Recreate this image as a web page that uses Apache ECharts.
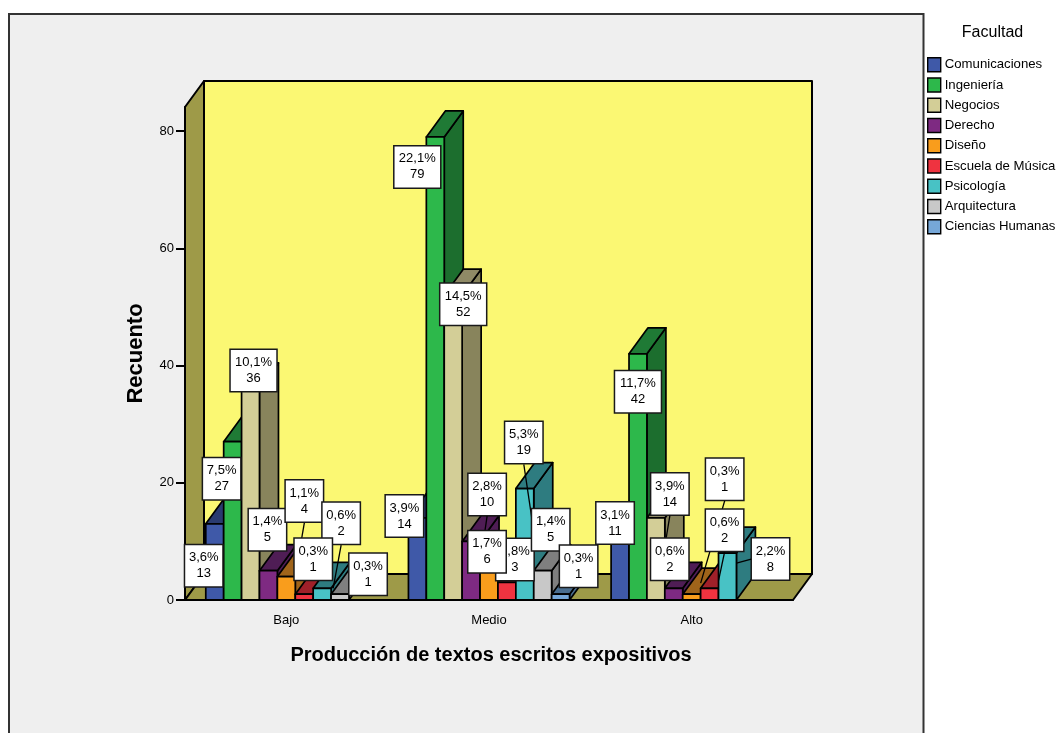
<!DOCTYPE html>
<html>
<head>
<meta charset="utf-8">
<style>html,body{margin:0;padding:0;background:#fff}#chart{width:1058px;height:733px}</style>
<script src="https://cdn.jsdelivr.net/npm/echarts@6/dist/echarts.min.js"></script>
</head>
<body>
<div id="chart"></div>
<script>
// Recuento de estudiantes por nivel de producción y facultad
const categories = ['Bajo', 'Medio', 'Alto'];
const faculties = ['Comunicaciones', 'Ingeniería', 'Negocios', 'Derecho', 'Diseño', 'Escuela de Música', 'Psicología', 'Arquitectura', 'Ciencias Humanas'];
const tickValues = [0, 20, 40, 60, 80];

const comunicaciones = [13, 14, 11];
const ingenieria = [27, 79, 42];
const negocios = [36, 52, 14];
const derecho = [5, 10, 2];
const diseno = [4, 6, 1];
const musica = [1, 3, 2];
const psicologia = [2, 19, 8];
const arquitectura = [1, 5, 0];
const humanas = [0, 1, 0];

const pctComunicaciones = ['3,6%', '3,9%', '3,1%'];
const pctIngenieria = ['7,5%', '22,1%', '11,7%'];
const pctNegocios = ['10,1%', '14,5%', '3,9%'];
const pctDerecho = ['1,4%', '2,8%', '0,6%'];
const pctDiseno = ['1,1%', '1,7%', '0,3%'];
const pctMusica = ['0,3%', '0,8%', '0,6%'];
const pctPsicologia = ['0,6%', '5,3%', '2,2%'];
const pctArquitectura = ['0,3%', '1,4%', ''];
const pctHumanas = ['', '0,3%', ''];

const counts = [comunicaciones, ingenieria, negocios, derecho, diseno, musica, psicologia, arquitectura, humanas];
const percents = [pctComunicaciones, pctIngenieria, pctNegocios, pctDerecho, pctDiseno, pctMusica, pctPsicologia, pctArquitectura, pctHumanas];

// Caras de cada barra: frontal, lateral y superior
const frontColors = ['#3F59A8', '#2DB84B', '#D3CE97', '#7E2A82', '#F99D1C', '#EF3340', '#48C2C5', '#C8C8C8', '#76A7D8'];
const sideColors = ['#2A3B70', '#1C6E2E', '#88845C', '#4F1D55', '#A0641A', '#A02029', '#2E7C80', '#7F7F7F', '#4A6E90'];
const topColors = ['#2A3B70', '#1F7A35', '#8F8A66', '#4F1D55', '#A0641A', '#A02029', '#2E7C80', '#7F7F7F', '#4A6E90'];

// Desplazamiento de cada etiqueta respecto al borde superior de su barra: [categoría][facultad]
const labelShift = [
  [[-11, 42], [-11, 37], [3, -18.5], [-1, -41], [18, -75.5], [9, -35], [19, -65], [28, -20], null],
  [[-13, -2], [-18, 30], [10, 9], [16, -47], [-2, -13], [8, -23], [-1, -46], [8, -41], [18, -28]],
  [[-5, -12.5], [0, 38], [14, -24], [-4, -29], [33, -115], [15, -58], [43, 6], null, null]
];
// Punto al que apunta la línea guía, relativo al mismo borde superior
const leaderTarget = [
  { 4: [9, -1.5], 6: [11, 0] },
  { 3: [10, 16], 6: [9, 43] },
  { 2: [10, 22], 4: [9, -11], 5: [9, -8], 6: [9, 10] }
];
const labelOrder = [
  [0, 1, 2, 3, 4, 6, 5, 7],
  [0, 1, 2, 3, 5, 4, 6, 7, 8],
  [0, 1, 2, 3, 4, 5, 6]
];

const AXIS_MAX = 84.1;
const DEPTH_X = 19;
const DEPTH_Y = 26;
const SLOTS = 9;
const EDGE = '#000';

function poly(points, fill, lw) {
  return { type: 'polygon', shape: { points }, style: { fill, stroke: EDGE, lineWidth: lw || 1.7, lineJoin: 'round' } };
}

// Paredes y suelo del recinto tridimensional
function renderWalls(params) {
  const r = params.coordSys;
  const l = r.x, t = r.y, w = r.width, b = r.y + r.height;
  const wall = '#9E9A48';
  return {
    type: 'group',
    children: [
      poly([[l + DEPTH_X, t - DEPTH_Y], [l + w + DEPTH_X, t - DEPTH_Y], [l + w + DEPTH_X, b - DEPTH_Y], [l + DEPTH_X, b - DEPTH_Y]], '#FBF873', 2),
      poly([[l, t], [l + DEPTH_X, t - DEPTH_Y], [l + DEPTH_X, b - DEPTH_Y], [l, b]], wall, 2),
      poly([[l, b], [l + DEPTH_X, b - DEPTH_Y], [l + w + DEPTH_X, b - DEPTH_Y], [l + w, b]], wall, 2)
    ]
  };
}

function slotWidth(api) {
  return api.size([1, 0])[0] * 0.795 / SLOTS;
}

function barRenderer(f) {
  return function (params, api) {
    const cat = api.value(0), val = api.value(1);
    if (!val) return null;
    const s = slotWidth(api);
    const base = api.coord([cat, 0]);
    const top = api.coord([cat, val]);
    const x0 = base[0] + (f - SLOTS / 2) * s;
    const x1 = x0 + s;
    const y0 = base[1], y1 = top[1];
    return {
      type: 'group',
      children: [
        poly([[x1, y1], [x1 + DEPTH_X, y1 - DEPTH_Y], [x1 + DEPTH_X, y0 - DEPTH_Y], [x1, y0]], sideColors[f]),
        poly([[x0, y1], [x0 + DEPTH_X, y1 - DEPTH_Y], [x1 + DEPTH_X, y1 - DEPTH_Y], [x1, y1]], topColors[f]),
        poly([[x0, y1], [x1, y1], [x1, y0], [x0, y0]], frontColors[f])
      ]
    };
  };
}

// Cuadros de porcentaje y recuento, con su línea guía encima
function renderLabels(params, api) {
  const cat = api.value(0), f = api.value(1), val = api.value(2);
  const s = slotWidth(api);
  const top = api.coord([cat, val]);
  const ax = top[0] + (f - (SLOTS - 1) / 2) * s;
  const ay = top[1];
  const shift = labelShift[cat][f];
  const cx = ax + shift[0], cy = ay + shift[1];
  const pct = percents[f][cat];
  const w = pct.length > 4 ? 47 : 38.5;
  const h = 42.5;
  const children = [
    { type: 'rect', shape: { x: cx - w / 2, y: cy - h / 2, width: w, height: h },
      style: { fill: '#fff', stroke: '#1a1a1a', lineWidth: 1.5 } },
    { type: 'text', style: { x: cx, y: cy, text: pct + '\n' + val, align: 'center', verticalAlign: 'middle',
      font: '13px "Liberation Sans"', lineHeight: 16, fill: '#000' } }
  ];
  const t = leaderTarget[cat][f];
  if (t) {
    const tx = ax + t[0], ty = ay + t[1];
    const fromSide = Math.abs(tx - cx) > w / 2 && Math.abs(ty - cy) < h / 2;
    const sx = fromSide ? cx - w / 2 : cx;
    const sy = fromSide ? cy : cy + h / 2 + 0.5;
    children.push({ type: 'line', shape: { x1: sx, y1: sy, x2: tx, y2: ty }, style: { stroke: '#000', lineWidth: 1.3 } });
  }
  return { type: 'group', children };
}

const labelRows = [];
labelOrder.forEach((order, cat) => order.forEach(f => labelRows.push([cat, f, counts[f][cat]])));

const series = [
  { type: 'custom', coordinateSystem: 'cartesian2d', z: 2, silent: true, renderItem: renderWalls, data: [[0, 0]], encode: { x: 0, y: 1 } }
];
faculties.forEach((name, f) => {
  series.push({
    name, type: 'custom', coordinateSystem: 'cartesian2d', z: 2, silent: true,
    itemStyle: { color: frontColors[f] },
    renderItem: barRenderer(f),
    data: categories.map((c, i) => [i, counts[f][i]]),
    encode: { x: 0, y: 1 }
  });
});
series.push({ type: 'custom', coordinateSystem: 'cartesian2d', z: 6, silent: true, renderItem: renderLabels, data: labelRows, encode: { x: 0, y: 2 } });

const chart = echarts.init(document.getElementById('chart'), null, { renderer: 'canvas' });
chart.setOption({
  animation: false,
  backgroundColor: '#fff',
  textStyle: { fontFamily: '"Liberation Sans"' },
  graphic: [{
    type: 'rect', z: -1, silent: true,
    shape: { x: 9, y: 14, width: 914.5, height: 740 },
    style: { fill: '#EFEFEF', stroke: '#333', lineWidth: 2 }
  }],
  title: {
    text: 'Facultad', left: 987.5, top: 20, textAlign: 'center',
    textStyle: { fontSize: 16, fontWeight: 'normal', color: '#000', fontFamily: '"Liberation Sans"' }
  },
  legend: {
    data: faculties, orient: 'vertical', left: 927, top: 57, padding: 0,
    itemWidth: 13, itemHeight: 14, itemGap: 4.85, icon: 'rect', selectedMode: false,
    itemStyle: { borderColor: '#000', borderWidth: 1.4 },
    textStyle: { fontSize: 13.2, lineHeight: 14, color: '#000', fontFamily: '"Liberation Sans"', padding: [0, 0, 0, -1] }
  },
  grid: { left: 185, right: 265, top: 107, bottom: 133 },
  xAxis: {
    type: 'category', data: categories, z: 4,
    name: 'Producción de textos escritos expositivos', nameLocation: 'middle', nameGap: 45,
    nameTextStyle: { fontSize: 20, fontWeight: 'bold', color: '#000', fontFamily: '"Liberation Sans"', padding: [0, 0, 0, 4] },
    axisLine: { lineStyle: { color: '#000', width: 2 } },
    axisTick: { alignWithLabel: true, length: 10, lineStyle: { color: '#000', width: 1.5 } },
    axisLabel: { fontSize: 13, color: '#000', margin: 14 }
  },
  yAxis: {
    type: 'value', min: 0, max: AXIS_MAX, z: 4,
    name: 'Recuento', nameLocation: 'middle', nameGap: 38, nameRotate: 90,
    nameTextStyle: { fontSize: 22, fontWeight: 'bold', color: '#000', fontFamily: '"Liberation Sans"' },
    splitLine: { show: false },
    axisLine: { show: true, lineStyle: { color: '#000', width: 2 } },
    axisTick: { show: true, length: 9, customValues: tickValues, lineStyle: { color: '#000', width: 2 } },
    axisLabel: { fontSize: 13, color: '#000', margin: 11, customValues: tickValues }
  },
  series
});
</script>
</body>
</html>
